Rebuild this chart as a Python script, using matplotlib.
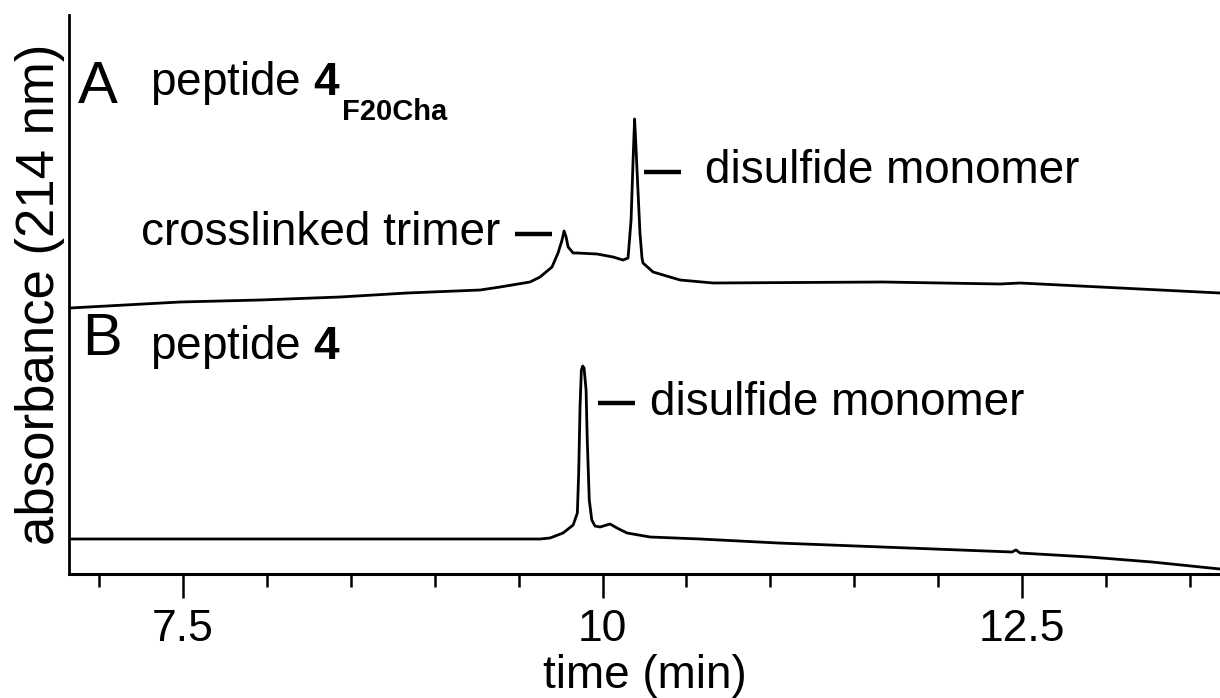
import matplotlib
matplotlib.use("Agg")
import matplotlib.pyplot as plt

# HPLC traces, absorbance in arbitrary units (no y ticks in the original)
time_a = [6.828, 7.484, 7.960, 8.437, 8.836, 9.271, 9.390, 9.568, 9.628, 9.699,
          9.735, 9.759, 9.771, 9.783, 9.795, 9.825, 9.848, 9.967, 10.063, 10.122,
          10.152, 10.170, 10.182, 10.191, 10.200, 10.211, 10.223, 10.235, 10.241,
          10.301, 10.462, 10.658, 11.671, 12.368, 12.487, 12.963, 13.678]
abs_a = [266, 272, 274, 277, 281, 284, 287, 292, 297, 307,
         321, 334, 343, 337, 327, 321, 321, 320, 317, 314,
         316, 354, 414, 455, 424, 384, 341, 316, 311,
         302, 294, 291, 292, 290, 291, 287, 281]

time_b = [6.828, 8.198, 9.628, 9.687, 9.765, 9.825, 9.850, 9.858, 9.866, 9.874,
          9.882, 9.890, 9.902, 9.909, 9.921, 9.936, 9.955, 9.985, 10.045, 10.086,
          10.146, 10.283, 10.581, 11.045, 12.439, 12.463, 12.487, 12.898, 13.273,
          13.678]
abs_b = [35, 35, 35, 36, 41, 49, 61, 101, 167, 204,
         208, 206, 184, 134, 74, 54, 48, 47, 50, 46,
         41, 37, 35, 31, 22, 24, 21, 17, 12, 5]

# peak labels: (text, text x, text y, ha, dash start, dash end, dash y)
peak_labels = [
    ("crosslinked trimer", 9.389, 329, "right", 9.479, 9.699, 340),
    ("disulfide monomer", 10.610, 391, "left", 10.247, 10.468, 402),
    ("disulfide monomer", 10.283, 159, "left", 9.973, 10.194, 171),
]

plt.rcParams["font.family"] = ["Liberation Sans", "DejaVu Sans"]
plt.rcParams["mathtext.fontset"] = "custom"
plt.rcParams["mathtext.rm"] = "Liberation Sans"
plt.rcParams["mathtext.bf"] = "Liberation Sans:bold"

fig = plt.figure(figsize=(12.2, 6.98), dpi=100)
ax = fig.add_axes([69 / 1220, 1 - 574 / 698, 1 - 69 / 1220, (574 - 15) / 698])

ax.plot(time_a, abs_a, color="black", lw=2.0)
ax.plot(time_b, abs_b, color="black", lw=2.0)

for txt, tx, ty, ha, d0, d1, dy in peak_labels:
    ax.text(tx, ty, txt, ha=ha, va="baseline", fontsize=33)
    ax.plot([d0, d1], [dy, dy], color="black", lw=3.2, solid_capstyle="butt")

ax.text(6.876, 471, "A", fontsize=43, va="baseline")
pa = ax.text(7.305, 479, r"peptide $\mathbf{4}$", fontsize=33, va="baseline")
# subscript placed right after the bold 4, dropped below the baseline
ax.annotate("F20Cha", xy=(1, 0), xycoords=pa, xytext=(1, -9),
            textcoords="offset points", fontsize=21, fontweight="bold",
            va="baseline", ha="left")
ax.text(6.900, 219, "B", fontsize=43, va="baseline")
ax.text(7.305, 215, r"peptide $\mathbf{4}$", fontsize=33, va="baseline")

ax.set_xlim(6.822, 13.678)
ax.set_ylim(0, 559)
for side in ("top", "right"):
    ax.spines[side].set_visible(False)
ax.spines["left"].set_linewidth(2)
ax.spines["bottom"].set_linewidth(2.2)

ax.set_xticks([7.5, 10, 12.5])
ax.set_xticklabels(["7.5", "10", "12.5"])
ax.set_xticks([7.0, 8.0, 8.5, 9.0, 9.5, 10.5, 11.0, 11.5, 12.0, 13.0, 13.5], minor=True)
ax.tick_params(axis="x", which="major", length=17, width=1.8, labelsize=32, pad=8)
ax.tick_params(axis="x", which="minor", length=9.5, width=1.8)
ax.set_yticks([])
ax.set_xlabel("time (min)", fontsize=33, labelpad=3)
ax.set_ylabel("absorbance (214 nm)", fontsize=38, labelpad=3)

fig.savefig("out.png", dpi=100)
